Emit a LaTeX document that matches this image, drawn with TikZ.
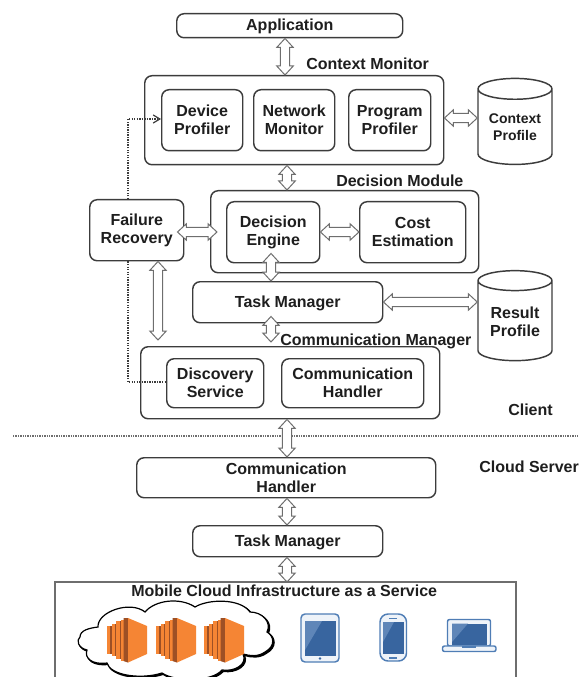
\documentclass[tikz,border=0pt]{standalone}
\usepackage{fontspec}
\setmainfont{Liberation Sans}
\usetikzlibrary{calc,shapes.geometric,arrows.meta}
\definecolor{ln}{HTML}{3C3C3C}
\definecolor{arw}{HTML}{6E6E6E}
\definecolor{txt}{HTML}{1E1E1E}
\definecolor{orangeA}{HTML}{F58534}
\definecolor{orangeB}{HTML}{9D5025}
\definecolor{blueA}{HTML}{38659F}
\definecolor{blueB}{HTML}{4F7DB5}
\definecolor{blueC}{HTML}{5F86B8}
\definecolor{paleB}{HTML}{EEF3F9}
\tikzset{
  x=0.75pt,y=-0.75pt,
  box/.style={draw=ln,line width=1.1pt,rounded corners=5.5pt,fill=white,align=center,
    font=\bfseries\fontsize{12}{13.5}\selectfont,text=txt,inner sep=0pt,anchor=north west},
  lbl/.style={font=\bfseries\fontsize{12}{13.5}\selectfont,text=txt,inner sep=0pt,anchor=base west},
  store/.style={cylinder,shape border rotate=90,aspect=0.4,draw=ln,line width=1.1pt,fill=white,align=center,
    text=txt,inner sep=0pt,minimum width=55.5pt},
  dbl/.style={draw=arw,line width=0.75pt,fill=white,line join=miter,
    to path={(\tikztostart) coordinate (dA) (\tikztotarget) coordinate (dB)
      ($(dA)!6.75pt!(dB)$) coordinate (dC) ($(dB)!6.75pt!(dA)$) coordinate (dD)
      (dA) -- ($(dC)!6.2pt!90:(dB)$) -- ($(dC)!3.4pt!90:(dB)$) -- ($(dD)!3.4pt!-90:(dA)$) -- ($(dD)!6.2pt!-90:(dA)$)
      -- (dB) -- ($(dD)!6.2pt!90:(dA)$) -- ($(dD)!3.4pt!90:(dA)$) -- ($(dC)!3.4pt!-90:(dB)$) -- ($(dC)!6.2pt!-90:(dB)$) -- cycle}},
  dots/.style={draw=ln,line width=1.1pt,dash pattern=on 1pt off 0.9pt},
  srv/.pic={
    \fill[orangeA] (0,8) rectangle (3,36);
    \fill[orangeB] (3,8) rectangle (4.5,36);
    \fill[orangeA] (4.5,6) rectangle (7.5,38);
    \fill[orangeB] (7.5,6) rectangle (9,38);
    \fill[orangeA] (9,3) rectangle (12.5,41);
    \fill[orangeB] (12.5,3) rectangle (14,41);
    \fill[orangeA] (14,1.5) rectangle (16.5,42.5);
    \fill[orangeB] (16.5,0) -- (21,0) -- (21,44.5) -- (16.5,43) -- cycle;
    \fill[orangeA] (21,0) -- (40,8) -- (40,36) -- (21,44.5) -- cycle;
  }
}
\newcommand{\bx}[6]{\node[box,minimum width=#4*0.75pt-#2*0.75pt,minimum height=#5*0.75pt-#3*0.75pt] (#1) at (#2,#3) {#6};}
\newcommand{\stk}[2]{\raisebox{#1}[20pt][20pt]{\begin{tabular}{@{}c@{}}#2\end{tabular}}}
\begin{document}
\begin{tikzpicture}
\useasboundingbox (0,0) rectangle (579,677);
% infrastructure frame (no bottom edge)
\coordinate (fa) at (55,677);
\coordinate (fb) at (55,582);
\coordinate (fc) at (516,582);
\coordinate (fd) at (516,677);
\draw[draw=arw,line width=0.9pt] (fa) -- (fb) -- (fc) -- (fd);
\node[lbl] (mcl) at (131,596) {Mobile Cloud Infrastructure as a Service};
% outer boxes
\bx{app}{176}{13}{402}{37}{\rule{0pt}{9.5pt}Application}
\bx{ctx}{144}{75}{443}{164}{}
\bx{dec}{210}{190}{478}{272}{}
\bx{comm}{140}{346}{439}{418}{}
\bx{devp}{161}{89}{242}{150}{Device\\Profiler}
\bx{netm}{253}{89}{334}{150}{Network\\Monitor}
\bx{prgp}{348}{89}{430}{150}{Program\\Profiler}
\bx{fail}{89}{199}{183}{260}{Failure\\Recovery}
\bx{eng}{226}{201}{319}{262}{Decision\\Engine}
\bx{cost}{359}{201}{465}{262}{Cost\\Estimation}
\bx{tm}{192}{281}{382}{322}{\rule{0pt}{10pt}Task Manager}
\bx{disc}{166}{358}{263}{407}{Discovery\\Service}
\bx{chc}{281}{358}{423}{407}{Communication\\Handler}
\bx{chs}{136}{457}{435}{497}{Communication\\Handler}
\bx{tms}{192}{525}{382}{556}{\rule{0pt}{10pt}Task Manager}
\node[store,minimum height=64.5pt,font=\bfseries\fontsize{10.5}{12.5}\selectfont] (cp) at (515,127) {\stk{-3.75pt}{Context\\Profile}};
\node[store,minimum height=67.5pt,font=\bfseries\fontsize{12}{13.5}\selectfont] (rp) at (515,321) {\stk{-5.25pt}{Result\\Profile}};
% section labels
\node[lbl] (l1) at (306,70) {Context Monitor};
\node[lbl] (l2) at (336,186) {Decision Module};
\node[lbl] (l3) at (280,345) {Communication Manager};
\node[lbl] (l4) at (508,415) {Client};
\node[lbl] (l5) at (479,472) {Cloud Server};
% separator
\coordinate (sa) at (13,436);
\coordinate (sb) at (579,436);
\draw[draw=arw,line width=1.3pt,dash pattern=on 1.1pt off 0.7pt] (sa) -- (sb);
% dotted links
\draw[dots,-{Straight Barb[length=5pt,width=6pt,line width=0.9pt]}] (128,0 |- fail.north) |- (0,119 -| devp.west);
\draw[dots] (128,0 |- fail.south) |- (0,382 -| disc.west);
% double arrows
\path[dbl] (285,0 |- app.south) to (285,0 |- ctx.north);
\path[dbl] (287,0 |- ctx.south) to (287,0 |- dec.north);
\path[dbl] (ctx.east |- 0,118) to (cp.west |- 0,118);
\path[dbl] ($(fail.east |- 0,232)+(-7,0)$) to ($(dec.west |- 0,232)+(7,0)$);
\path[dbl] (158,0 |- fail.south) to ($(158,0 |- comm.north)+(0,-6)$);
\path[dbl] ($(271,0 |- eng.south)+(0,-10)$) to (271,0 |- tm.north);
\path[dbl] ($(271,0 |- tm.south)+(0,-7)$) to ($(271,0 |- comm.north)+(0,-4)$);
\path[dbl] (eng.east |- 0,232) to (cost.west |- 0,232);
\path[dbl] (tm.east |- 0,302) to (rp.west |- 0,302);
\path[dbl] (287,0 |- comm.south) to (287,0 |- chs.north);
\path[dbl] (287,0 |- chs.south) to (287,0 |- tms.north);
\path[dbl] (287,0 |- tms.south) to (287,0 |- fb);
% cloud
\def\cloudpath{(80,637) .. controls (80,630) and (90,628) .. (98,627)
  .. controls (97,612) and (130,600) .. (145,612)
  .. controls (155,600) and (180,597) .. (195,607)
  .. controls (208,599) and (240,598) .. (250,612)
  .. controls (262,612) and (272,622) .. (267,632)
  .. controls (274,636) and (276,646) .. (265,652)
  .. controls (258,657) and (250,656) .. (243,654)
  .. controls (248,664) and (235,672) .. (222,670)
  .. controls (212,682) and (175,682) .. (162,673)
  .. controls (140,680) and (110,675) .. (107,663)
  .. controls (92,665) and (84,658) .. (87,650)
  .. controls (78,648) and (76,640) .. (80,637) -- cycle}
\draw[black,line width=1.2pt,fill=black,shift={(1.2,1.2)}] \cloudpath;
\draw[black,line width=0.9pt,fill=white] \cloudpath;
\pic at (107,618) {srv};
\pic at (156,618) {srv};
\pic at (204,618) {srv};
% tablet
\draw[blueB,line width=1.1pt,fill=paleB,rounded corners=3pt] (301,614) rectangle (339,662);
\fill[blueA] (305,621) rectangle (336,656);
\fill[blueC] (305,621) -- (322,621) -- (305,650) -- cycle;
\fill[blueA] (320,658.5) circle (1.3);
% phone
\draw[blueB,line width=1.1pt,fill=paleB,rounded corners=6pt] (380,614) rectangle (406.5,661);
\fill[blueA] (383,622) rectangle (404,654);
\fill[blueC] (383,622) -- (394,622) -- (383,642) -- cycle;
\fill[blueB] (389,617.5) rectangle (397,619);
\fill[blueB] (389,656.5) rectangle (397,658.5);
% laptop
\draw[blueB,line width=1.1pt,fill=paleB,rounded corners=1.5pt] (447.5,619.5) rectangle (490.5,646);
\fill[blueA] (452,623.5) rectangle (487,645);
\fill[blueC] (452,623.5) -- (468,623.5) -- (452,642) -- cycle;
\draw[blueB,line width=1.1pt,fill=paleB,rounded corners=1.5pt] (442.5,646) rectangle (496,651.5);
\fill[blueB] (462,646) rectangle (476,648);
\end{tikzpicture}
\end{document}
